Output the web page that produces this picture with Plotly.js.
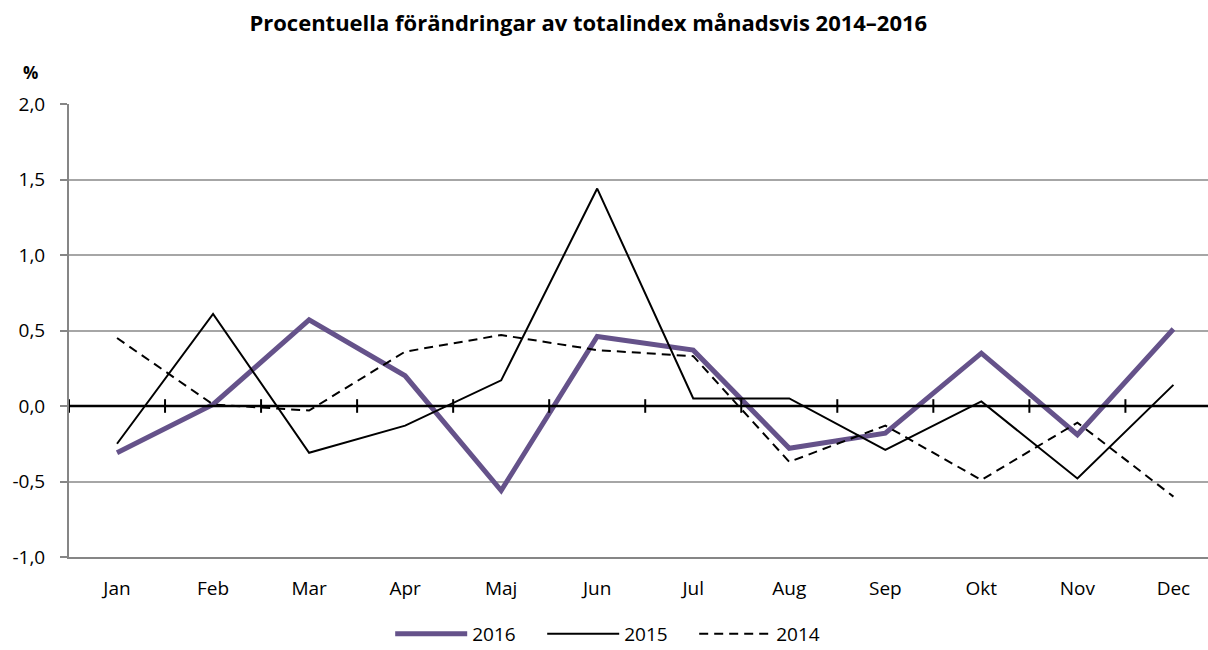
<!DOCTYPE html>
<html><head><meta charset="utf-8">
<script src="https://cdn.plot.ly/plotly-3.0.1.min.js"></script>
<style>html,body{margin:0;padding:0;overflow:hidden;background:#fff}</style>
</head><body><div id="chart" style="width:1208px;height:650px"></div>
<script>
const months = ["Jan","Feb","Mar","Apr","Maj","Jun","Jul","Aug","Sep","Okt","Nov","Dec"];
const v2016 = [-0.31, 0.01, 0.57, 0.20, -0.56, 0.46, 0.37, -0.28, -0.18, 0.35, -0.19, 0.51];
const v2015 = [-0.25, 0.61, -0.31, -0.13, 0.17, 1.44, 0.05, 0.05, -0.29, 0.03, -0.48, 0.14];
const v2014 = [0.45, 0.01, -0.03, 0.36, 0.47, 0.37, 0.33, -0.37, -0.13, -0.49, -0.11, -0.60];
const yTicks = [-1.0, -0.5, 0.0, 0.5, 1.0, 1.5, 2.0];
const yTickText = yTicks.map(v => v.toFixed(1).replace(".", ","));

const font = "'Open Sans', sans-serif";
const idx = months.map((m,i)=>i);

const traces = [
  {x: idx, y: v2016, name: "2016", mode: "lines", line: {color: "#65528a", width: 5}},
  {x: idx, y: v2015, name: "2015", mode: "lines", line: {color: "#000000", width: 2}},
  {x: idx, y: v2014, name: "2014", mode: "lines", line: {color: "#000000", width: 2, dash: "9px,6px"}}
];

const shapes = [{type: "line", xref: "paper", yref: "y", x0: 0, x1: 1, y0: 0, y1: 0,
  line: {color: "#000", width: 2.5}, layer: "above"}];
for (let i = 0; i <= months.length; i++) {
  shapes.push({type: "line", xref: "x", yref: "y", x0: i - 0.5, x1: i - 0.5, y0: -0.045, y1: 0.045,
    line: {color: "#000", width: 2}, layer: "above"});
}

const layout = {
  width: 1208, height: 650,
  margin: {l: 69, r: 0, t: 104, b: 93, autoexpand: false},
  paper_bgcolor: "#fff", plot_bgcolor: "#fff",
  font: {family: font, size: 19, color: "#000"},
  title: {text: "<b>Procentuella förändringar av totalindex månadsvis 2014–2016</b>",
    font: {family: font, size: 22, color: "#000"}, xref: "container", x: 0.487, xanchor: "center",
    yref: "container", y: 0.964, yanchor: "middle"},
  xaxis: {range: [-0.5, 11.36], tickmode: "array", tickvals: idx, ticktext: months,
    showgrid: false, zeroline: false, showline: true, linecolor: "#868686", linewidth: 2,
    ticks: "", ticklabelstandoff: 13, tickfont: {size: 19}, fixedrange: true, automargin: false},
  yaxis: {range: [-1.0, 2.0], tickmode: "array", tickvals: yTicks, ticktext: yTickText,
    showgrid: true, gridcolor: "#a6a6a6", gridwidth: 2, zeroline: false,
    showline: true, linecolor: "#868686", linewidth: 2,
    ticks: "outside", ticklen: 7, tickcolor: "#868686", tickwidth: 2, ticklabelstandoff: 11,
    tickfont: {size: 19}, fixedrange: true, automargin: false},
  showlegend: true,
  legend: {orientation: "h", x: 0.282, xanchor: "left", y: -0.128, yanchor: "top",
    font: {size: 19}, itemwidth: 72, entrywidth: 65, traceorder: "normal", bgcolor: "rgba(0,0,0,0)"},
  shapes: shapes,
  annotations: [{text: "<b>%</b>", xref: "paper", yref: "paper", x: -0.034, xanchor: "center",
    y: 1.07, yanchor: "middle", showarrow: false, font: {size: 17, color: "#000"}}]
};

Plotly.newPlot("chart", traces, layout, {displayModeBar: false, staticPlot: true});
</script></body></html>
